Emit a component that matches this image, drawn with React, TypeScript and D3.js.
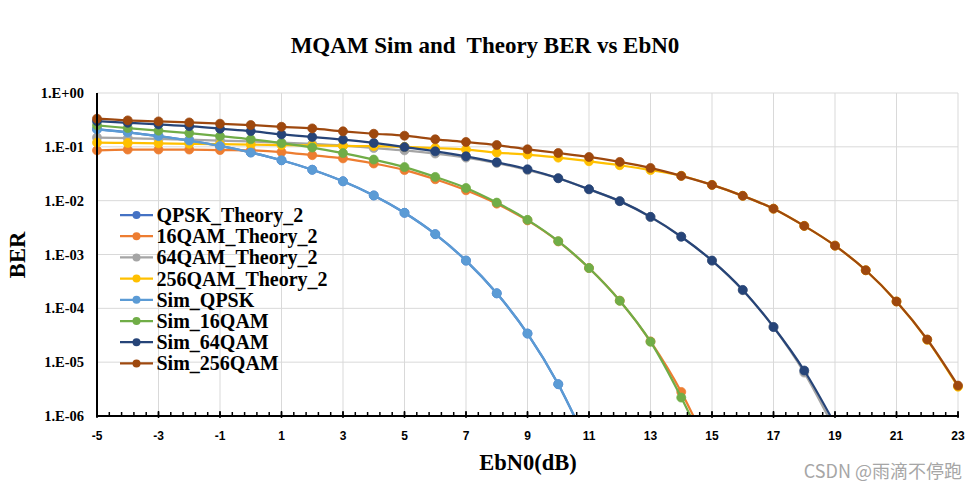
import React from 'react';
import * as d3 from 'd3';

// ---- data ----
const ebn0 = [-5, -4, -3, -2, -1, 0, 1, 2, 3, 4, 5, 6, 7, 8, 9, 10, 11, 12, 13, 14, 15, 16, 17, 18, 19, 20, 21, 22, 23];

const xTickValues = [-5, -3, -1, 1, 3, 5, 7, 9, 11, 13, 15, 17, 19, 21, 23];
const yTickValues = [1, 1e-1, 1e-2, 1e-3, 1e-4, 1e-5, 1e-6];
const yTickLabels = ['1.E+00', '1.E-01', '1.E-02', '1.E-03', '1.E-04', '1.E-05', '1.E-06'];

const seriesNames = [
  'QPSK_Theory_2',
  '16QAM_Theory_2',
  '64QAM_Theory_2',
  '256QAM_Theory_2',
  'Sim_QPSK',
  'Sim_16QAM',
  'Sim_64QAM',
  'Sim_256QAM',
];
const seriesColors = ['#4472C4', '#ED7D31', '#A5A5A5', '#FFC000', '#5B9BD5', '#70AD47', '#264478', '#9E480E'];

const qpskTheory = [0.213, 0.186, 0.158, 0.131, 0.104, 0.0786, 0.0563, 0.0375, 0.0229, 0.0125, 0.00595, 0.00239, 7.7e-4, 1.9e-4, 3.4e-5, 3.9e-6, 2.6e-7];
const qam16Theory = [0.086, 0.089, 0.089, 0.089, 0.087, 0.086, 0.080, 0.070, 0.061, 0.049, 0.037, 0.025, 0.0156, 0.0088, 0.0043, 0.00175, 5.6e-4, 1.39e-4, 2.43e-5, 2.8e-6, 1.8e-7];
const qam64Theory = [0.149, 0.145, 0.140, 0.136, 0.131, 0.126, 0.120, 0.113, 0.105, 0.095, 0.086, 0.075, 0.063, 0.050, 0.037, 0.0262, 0.0162, 0.0098, 0.00496, 0.00215, 7.7e-4, 2.17e-4, 4.5e-5, 6.4e-6, 5.5e-7];
const qam256Theory = [0.12, 0.118, 0.116, 0.114, 0.112, 0.11, 0.108, 0.106, 0.104, 0.103, 0.1, 0.095, 0.089, 0.078, 0.072, 0.063, 0.054, 0.0455, 0.037, 0.029, 0.0196, 0.0123, 0.0071, 0.0034, 0.00146, 5.1e-4, 1.34e-4, 2.6e-5, 3.5e-6];
const simQpsk = [0.212, 0.186, 0.158, 0.131, 0.104, 0.0786, 0.0563, 0.0375, 0.0229, 0.0125, 0.00595, 0.00239, 7.7e-4, 1.9e-4, 3.4e-5, 3.9e-6, 2.6e-7];
const sim16qam = [0.25, 0.223, 0.2, 0.18, 0.158, 0.138, 0.117, 0.097, 0.0765, 0.058, 0.042, 0.0276, 0.0172, 0.0092, 0.0044, 0.00177, 5.6e-4, 1.38e-4, 2.4e-5, 2.2e-6, 1.4e-7];
const sim64qam = [0.30, 0.28, 0.261, 0.242, 0.217, 0.196, 0.17, 0.152, 0.136, 0.118, 0.099, 0.0826, 0.0667, 0.0516, 0.0383, 0.0261, 0.0163, 0.0098, 0.005, 0.00214, 7.7e-4, 2.2e-4, 4.5e-5, 7.0e-6, 7e-7];
const sim256qam = [0.333, 0.31, 0.297, 0.284, 0.269, 0.254, 0.236, 0.22, 0.194, 0.175, 0.161, 0.138, 0.123, 0.108, 0.09, 0.0768, 0.0648, 0.0524, 0.0405, 0.0288, 0.0196, 0.0123, 0.0071, 0.0034, 0.00146, 5.1e-4, 1.34e-4, 2.64e-5, 3.67e-6];

const seriesValues = [qpskTheory, qam16Theory, qam64Theory, qam256Theory, simQpsk, sim16qam, sim64qam, sim256qam];

const titleText = 'MQAM Sim and  Theory BER vs EbN0';
const xTitle = 'EbN0(dB)';
const yTitle = 'BER';
const watermark = 'CSDN @雨滴不停跑';

const SERIF = '"Liberation Serif", "Times New Roman", serif';
const SANS = '"Liberation Sans", Arial, sans-serif';

export default function App() {
  const W = 979;
  const H = 490;
  const left = 97;
  const right = 958;
  const top = 93;
  const bottom = 416;

  const x = d3.scaleLinear().domain([-5, 23]).range([left, right]);
  const y = d3.scaleLog().domain([1e-6, 1]).range([bottom, top]);

  const line = d3
    .line<[number, number]>()
    .x((d) => x(d[0]))
    .y((d) => y(d[1]))
    .curve(d3.curveCatmullRom.alpha(0));

  const minorTicks = d3.range(-5, 23.0001, 0.4);

  const legendX0 = 120;
  const legendX1 = 153;
  const legendY0 = 215;
  const legendStep = 21.2;

  return (
    <svg
      width={W}
      height={H}
      style={{ position: 'absolute', left: 0, top: 0, background: '#fff' }}
    >
      <defs>
        <clipPath id="plotClip">
          <rect x={0} y={top - 20} width={W} height={bottom - top + 20} />
        </clipPath>
      </defs>
      <rect x={0} y={0} width={W} height={H} fill="#fff" />

      {/* title */}
      <text
        x={485}
        y={53}
        textAnchor="middle"
        fontFamily={SERIF}
        fontWeight="bold"
        fontSize={23}
        style={{ whiteSpace: 'pre' }}
      >
        {titleText}
      </text>

      {/* gridlines */}
      {yTickValues.slice(0, -1).map((v) => (
        <line key={'gy' + v} x1={left} x2={right} y1={y(v)} y2={y(v)} stroke="#D9D9D9" strokeWidth={1} />
      ))}
      {xTickValues.slice(1).map((v) => (
        <line key={'gx' + v} x1={x(v)} x2={x(v)} y1={top} y2={bottom} stroke="#D9D9D9" strokeWidth={1} />
      ))}

      {/* series */}
      <g clipPath="url(#plotClip)">
        {seriesValues.map((vals, si) => {
          const pts: [number, number][] = vals.map((v, i) => [ebn0[i], v]);
          return (
            <g key={'s' + si}>
              <path d={line(pts) || ''} fill="none" stroke={seriesColors[si]} strokeWidth={2.25} />
              {pts
                .filter((p) => p[1] >= 1e-6)
                .map((p, i) => (
                  <circle key={i} cx={x(p[0])} cy={y(p[1])} r={4.5} fill={seriesColors[si]} stroke={seriesColors[si]} strokeWidth={0.75} />
                ))}
            </g>
          );
        })}
      </g>

      {/* axes */}
      <line x1={left} x2={left} y1={top} y2={bottom + 1} stroke="#000" strokeWidth={2} />
      <line x1={left - 1} x2={right + 1} y1={bottom} y2={bottom} stroke="#000" strokeWidth={2} />
      {minorTicks.map((t, i) => (
        <line key={'mt' + i} x1={x(t)} x2={x(t)} y1={bottom - 4} y2={bottom} stroke="#000" strokeWidth={1.5} />
      ))}
      {xTickValues.map((t) => (
        <line key={'xt' + t} x1={x(t)} x2={x(t)} y1={bottom - 5} y2={bottom + 2} stroke="#000" strokeWidth={1.5} />
      ))}

      {/* y tick labels */}
      {yTickValues.map((v, i) => (
        <text
          key={'yl' + i}
          x={84}
          y={y(v)}
          textAnchor="end"
          dominantBaseline="central"
          fontFamily={SERIF}
          fontWeight="bold"
          fontSize={14.5}
        >
          {yTickLabels[i]}
        </text>
      ))}

      {/* x tick labels */}
      {xTickValues.map((v) => (
        <text key={'xl' + v} x={x(v)} y={440} textAnchor="middle" fontFamily={SANS} fontWeight="bold" fontSize={12}>
          {v}
        </text>
      ))}

      {/* axis titles */}
      <text x={528} y={470} textAnchor="middle" fontFamily={SERIF} fontWeight="bold" fontSize={22.5}>
        {xTitle}
      </text>
      <text
        transform="translate(25,255) rotate(-90)"
        textAnchor="middle"
        fontFamily={SERIF}
        fontWeight="bold"
        fontSize={22.5}
      >
        {yTitle}
      </text>

      {/* legend */}
      {seriesNames.map((name, i) => {
        const ly = legendY0 + i * legendStep;
        return (
          <g key={'lg' + i}>
            <line x1={legendX0} x2={legendX1} y1={ly} y2={ly} stroke={seriesColors[i]} strokeWidth={2.25} />
            <circle cx={(legendX0 + legendX1) / 2} cy={ly} r={4} fill={seriesColors[i]} />
            <text x={156.5} y={ly} dominantBaseline="central" fontFamily={SERIF} fontWeight="bold" fontSize={20}>
              {name}
            </text>
          </g>
        );
      })}

      {/* watermark */}
      <text x={962} y={478} textAnchor="end" fontFamily={'"Noto Sans CJK SC", ' + SANS} fontSize={18} fill="#a6a6a6">
        {watermark}
      </text>
    </svg>
  );
}
